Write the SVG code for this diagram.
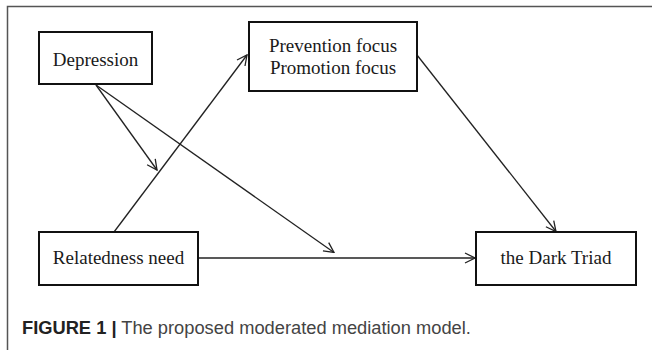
<svg xmlns="http://www.w3.org/2000/svg" width="652" height="350" viewBox="0 0 652 350">
<style>
.box{fill:#fff;stroke:#111;stroke-width:2}
.lbl{font-family:"Liberation Serif","Times New Roman",serif;font-size:19px;fill:#1a1a1a;text-anchor:middle}
.conn{stroke:#222;stroke-width:1.3;fill:none;marker-end:url(#ah)}
.frame{stroke:#555;stroke-width:1.5;fill:none}
.cap{font-family:"Liberation Sans",Arial,sans-serif;font-size:18.3px;fill:#444}
</style>
<defs>
<marker id="ah" viewBox="0 0 12 12" refX="11" refY="6" markerWidth="12" markerHeight="12" markerUnits="userSpaceOnUse" orient="auto">
<path d="M1,1 L11,6 L1,11" fill="none" stroke="#222" stroke-width="1.3"/>
</marker>
</defs>
<rect width="652" height="350" fill="#fff"/>
<path class="frame" d="M652,6.5 H7.5 V350"/>
<g id="connectors">
<line class="conn" x1="96" y1="85" x2="157" y2="170"/>
<line class="conn" x1="96" y1="85" x2="334" y2="252.5"/>
<line class="conn" x1="114" y1="232" x2="247" y2="55"/>
<line class="conn" x1="417" y1="55" x2="556" y2="231.5"/>
<line class="conn" x1="198" y1="258" x2="475" y2="258"/>
</g>
<g id="depression">
<rect class="box" x="39" y="32" width="113" height="52"/>
<text class="lbl" x="95.5" y="66">Depression</text>
</g>
<g id="focus">
<rect class="box" x="249" y="22" width="168" height="69"/>
<text class="lbl" x="333" y="52">Prevention focus</text>
<text class="lbl" x="333" y="74">Promotion focus</text>
</g>
<g id="relatedness">
<rect class="box" x="39" y="232" width="159" height="53"/>
<text class="lbl" x="118.5" y="264">Relatedness need</text>
</g>
<g id="darktriad">
<rect class="box" x="476" y="232" width="160" height="53"/>
<text class="lbl" x="556" y="264">the Dark Triad</text>
</g>
<text class="cap" x="22" y="334"><tspan font-weight="bold" fill="#222">FIGURE 1</tspan> <tspan font-weight="bold" fill="#222">|</tspan> The proposed moderated mediation model.</text>
</svg>
